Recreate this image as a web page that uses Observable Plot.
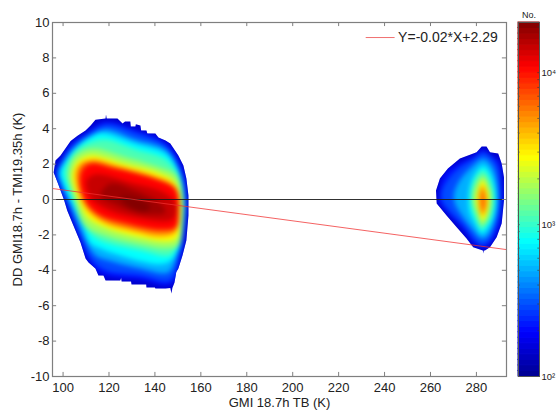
<!DOCTYPE html>
<html><head><meta charset="utf-8">
<script src="https://cdn.jsdelivr.net/npm/d3@7"></script>
<script src="https://cdn.jsdelivr.net/npm/@observablehq/plot@0.6"></script>
<style>html,body{margin:0;padding:0;background:#fff}#c{position:relative;width:557px;height:413px}#c svg{position:absolute;left:0;top:0;background:transparent}</style>
</head><body><div id="c"></div>
<script>
const xDomain=[95.4,293.1], yDomain=[-10,10];
const xTicks=[100,120,140,160,180,200,220,240,260,280];
const yTicks=[-10,-8,-6,-4,-2,0,2,4,6,8,10];
const fitX=[95.4,293.1], fitY=[0.62,-2.83];
const legendX=[232,244.6], legendY=[9.15,9.15];
const legendLabel="Y=-0.02*X+2.29";
const barTicks=[100,1000,10000], barLabels=["10²","10³","10⁴"];
const barMinor=[200,300,400,500,600,700,800,900,2000,3000,4000,5000,6000,7000,8000,9000,20000];
const stopValues=[100,196,767,2790,10900,21400];
const stopColors=["#00008f","#0000ff","#00ffff","#ffff00","#ff0000","#800000"];

// contour outlines: [count level, outline [x,y]...]
const bigEdge=[145,[[95.9,1.53],[96.7,2.2],[98.9,2.49],[101.1,2.9],[103.3,3.3],[106.3,3.6],[109.8,3.9],[112,4.18],[114.1,4.5],[118.5,4.58],[118.7,4.8],[119,4.58],[123.7,4.58],[125.9,4.29],[127,4.41],[129.3,4.41],[129.5,4.12],[131.5,4.12],[131.7,4.25],[133.7,4.18],[134,3.9],[136.3,3.9],[136.7,3.73],[140.2,3.73],[141.5,3.5],[144.6,3.33],[146.7,3.16],[150.2,2.49],[152.4,1.92],[153.7,1.19],[154.6,.23],[154.6,-.9],[153.7,-2.32],[152,-3.16],[150.2,-3.9],[149.3,-4.1],[148.5,-4.7],[147.6,-5],[147.2,-5.31],[146.7,-5],[144.6,-5.03],[140.2,-5.03],[140,-4.97],[136.3,-4.97],[136.2,-4.8],[129.8,-4.8],[129.6,-4.63],[125.5,-4.63],[125.3,-4.41],[124.9,-4.58],[118.5,-4.58],[117.6,-4.29],[115.4,-4.29],[114.1,-3.9],[111.1,-3.56],[109.8,-3.33],[107.6,-2.43],[104.5,-1.47],[101.8,-.62],[100.5,-.06],[97.8,.9]]];
const bigLevels=[
[210,[[96.5,1.53],[97.3,.85],[100.8,-.06],[103.3,-.9],[106.8,-2.1],[110.5,-3.3],[116.5,-4.2],[133.7,-4.55],[147,-4.8],[151.5,-3.3],[153.3,-1.6],[154,.23],[152,1.75],[145.5,3.15],[131.5,3.95],[118.5,4.4],[109.8,3.75],[103.8,3.2],[99.7,2.42]]],
[292,[[97.2,1.53],[98.5,.79],[101.5,-.06],[104.1,-.9],[107.6,-2.03],[112,-3.33],[118.5,-4.01],[133.7,-4.29],[146.7,-4.58],[150.7,-3.16],[152.8,-1.47],[153.3,.23],[151.1,1.64],[144.6,3.05],[131.5,3.79],[118.5,4.24],[109.8,3.62],[104.1,3.05],[100.2,2.37]]],
[499,[[98,1.53],[99.8,.79],[102.4,-.06],[106.3,-1.3],[110.2,-2.43],[114.1,-3.16],[119.8,-3.45],[133.7,-3.9],[145.9,-4.12],[150.2,-2.88],[152.4,-1.47],[152.8,.23],[150.7,1.64],[144.6,2.83],[131.5,3.39],[118.5,3.96],[111.1,3.5],[105.9,2.94],[101.1,2.2]]],
[770,[[98.9,1.53],[100.7,.62],[103.3,-.06],[108.9,-1.58],[112,-2.49],[116.3,-2.77],[120.7,-2.99],[144.6,-3.62],[150.2,-2.88],[152.4,-1.47],[152.8,-.06],[151.5,1.07],[148.9,1.92],[144.6,2.6],[131.5,3.16],[118.5,3.73],[115,3.73],[108.9,3.33],[102.4,2.49]]],
[1120,[[100.7,1.53],[103.3,.51],[106.7,-.73],[110.7,-1.75],[116.3,-2.32],[133.7,-2.88],[146.7,-3.16],[150.7,-2.32],[152,-1.3],[152,.23],[150.2,1.36],[144.6,2.26],[131.5,2.83],[118.5,3.39],[112.8,3.28],[106.7,2.88],[103.3,2.32]]],
[1720,[[102.4,1.53],[104.1,2.32],[108.9,2.77],[114.1,2.88],[126.3,2.43],[141.1,1.86],[149.4,1.36],[152,.23],[152,-1.3],[150.2,-2.6],[144.6,-2.77],[133.7,-2.54],[119.4,-2.09],[109.4,-1.47],[105,-.06],[102.4,1.07]]],
[2850,[[104,1.53],[106.3,2.15],[109.8,2.43],[114.1,2.49],[126.3,2.03],[141.1,1.53],[148,1.07],[151.1,.23],[151.1,-1.19],[149.4,-2.2],[144.6,-2.37],[133.7,-2.15],[119.4,-1.64],[110.7,-1.02],[106.3,.11],[104.1,1.07]]],
[4750,[[105.4,1.53],[107.6,2.03],[110.7,2.2],[114.1,2.26],[123.7,1.92],[138,1.41],[148,.85],[150.7,.06],[150.7,-1.02],[148.9,-1.86],[142.4,-2.09],[129.3,-1.75],[118.5,-1.36],[111.1,-.68],[107.2,.23]]],
[6540,[[106.7,1.53],[108.5,1.98],[112,2.15],[122,1.86],[135.9,1.3],[148.9,.68],[150.2,-.34],[150.2,-.73],[148.9,-1.7],[142.4,-1.86],[127.2,-1.53],[117.6,-1.13],[111.1,-.51],[107.6,.34]]],
[10900,[[107.6,1.36],[109.8,1.86],[113.3,2.03],[120.7,1.81],[130.7,1.53],[142.4,1.07],[149.4,.51],[150.2,-.62],[149.4,-1.53],[142.4,-1.7],[126.3,-1.3],[116.3,-.9],[111.1,-.34],[108,.51]]],
[14700,[[110.2,1.07],[114.1,1.41],[129.3,.96],[144.6,.34],[149.4,-.34],[147.6,-1.13],[129.3,-.96],[118.5,-.51],[112,.11]]],
[18200,[[120.7,.9],[131.5,.51],[142.4,-.23],[144.6,-.73],[133.7,-.79],[122.8,-.28],[116.3,.23]]],
[21000,[[125,.17],[131.5,.11],[138,-.4],[135.9,-.68],[128.5,-.4]]]
];
const smallEdge=[145,[[282.3,2.99],[284.4,2.99],[285.9,2.67],[289.5,2.6],[291,2.03],[292,1.26],[292,-.06],[291,-1.36],[288.8,-2.13],[285.9,-2.7],[283.7,-2.88],[283.2,-2.88],[283,-3.05],[282.8,-2.88],[278.6,-2.7],[275.7,-2.2],[271.4,-1.57],[267,-.9],[262.7,-.23],[262.4,.51],[264.1,1.19],[267.6,1.75],[272.8,2.32],[280.1,2.67]]];
const smallLevels=[
[210,[[283,2.83],[286.2,2.5],[289.7,2.2],[291.2,.9],[291.1,-.5],[289.5,-1.7],[286,-2.5],[282.8,-2.75],[278.6,-2.45],[274.3,-1.7],[268,-.85],[263.8,-.15],[263.8,.5],[266,1.45],[272.3,2.05],[278.6,2.45]]],
[292,[[283,2.67],[286.6,2.39],[289.5,1.83],[290.5,.7],[290.2,-.81],[288,-1.75],[285.2,-2.41],[282.3,-2.6],[278.6,-2.22],[274.3,-1.47],[268.5,-.72],[264.9,-.06],[264.9,.51],[267.8,1.17],[272.8,1.83],[278.6,2.3]]],
[499,[[283,2.3],[286.6,1.92],[288.8,1.07],[289.5,-.06],[288,-1.19],[285.2,-2.03],[282.3,-2.22],[278.6,-1.75],[273.6,-.9],[270.7,-.24],[270.2,.32],[273.2,1.17],[277.9,1.83]]],
[770,[[283,1.92],[285.9,1.54],[288,.7],[288.5,-.24],[287.3,-1.09],[284.4,-1.75],[282.3,-1.94],[279.4,-1.37],[277,-.72],[276.5,-.06],[277.2,.79],[279.4,1.45]]],
[1120,[[283,1.64],[285.6,1.22],[287.3,.51],[287.5,-.34],[286,-1.09],[283.4,-1.6],[282.3,-1.72],[279.8,-1.15],[278,-.43],[277.6,.13],[278.2,.79],[280.1,1.36]]],
[1720,[[283,1.36],[285.2,.88],[286.6,.23],[286.2,-.53],[284.7,-1.19],[282.3,-1.47],[280.4,-.9],[278.6,-.24],[278.6,.41],[280.4,.98]]],
[2850,[[282.7,1.07],[284.7,.6],[285.6,-.06],[284.7,-.72],[282.7,-1.19],[281.1,-.72],[280.1,-.06],[280.8,.6]]],
[4750,[[282.7,.79],[284.1,.41],[284.7,-.15],[284,-.62],[282.5,-.9],[281.5,-.53],[281.1,.04],[281.5,.51]]],
[6000,[[282.7,.51],[283.7,.13],[283.7,-.34],[282.5,-.62],[281.8,-.24],[281.8,.23]]]
];
const flat=(list,tag)=>list.flatMap(([v,pts],i)=>pts.map(([x,y])=>({id:tag+i,v,x,y})));
const edges=flat([bigEdge,smallEdge],"edge");
const inner=[...flat(bigLevels,"big"),...flat(smallLevels,"small")];
const colorScale={type:"log",domain:stopValues,range:stopColors,interpolate:"rgb"};
const gray="#7f7f7f";
const font="Arial, 'Liberation Sans', sans-serif";

const main=Plot.plot({
  width:557,height:413,marginLeft:52,marginRight:51,marginTop:22,marginBottom:37,
  style:{fontFamily:font,fontSize:"13px",color:"#222",background:"transparent"},
  x:{domain:xDomain,label:null},y:{domain:yDomain,label:null},color:colorScale,
  marks:[
    Plot.line(edges,{x:"x",y:"y",z:"id",fill:"v",stroke:null,curve:"linear"}),
    Plot.line(inner,{x:"x",y:"y",z:"id",fill:"v",stroke:null,curve:"catmull-rom-closed",imageFilter:"blur(2.4px)"}),
    Plot.ruleY([0],{stroke:"#1a1a1a",strokeWidth:0.9}),
    Plot.line(fitX.map((x,i)=>({x,y:fitY[i]})),{x:"x",y:"y",stroke:"#f03030",strokeWidth:0.9,strokeOpacity:0.85}),
    Plot.ruleY([legendY[0]],{x1:legendX[0],x2:legendX[1],stroke:"#f07070",strokeWidth:1}),
    Plot.text([legendLabel],{x:legendX[1],y:legendY[0],dx:3,text:d=>d,textAnchor:"start",fontSize:14,fill:"#222"}),
    Plot.ruleX(xTicks,{y1:yDomain[0],y2:yDomain[0]+0.23,stroke:gray}),
    Plot.ruleX(xTicks,{y1:yDomain[1],y2:yDomain[1]-0.23,stroke:gray}),
    Plot.ruleY(yTicks,{x1:xDomain[0],x2:xDomain[0]+1.8,stroke:gray}),
    Plot.ruleY(yTicks,{x1:xDomain[1],x2:xDomain[1]-1.8,stroke:gray}),
    Plot.frame({stroke:gray,strokeWidth:1.2}),
    Plot.axisX({ticks:xTicks,tickSize:0,tickPadding:6,tickFormat:d=>String(d),label:"GMI 18.7h TB (K)",labelAnchor:"center",labelArrow:"none",labelOffset:30}),
    Plot.axisY({ticks:yTicks,tickSize:0,tickPadding:3,tickFormat:d=>String(d),label:"DD GMI18.7h - TMI19.35h (K)",labelAnchor:"center",labelArrow:"none",labelOffset:40})
  ]
});
document.getElementById("c").appendChild(main);

// keep the blurred interior inside the crisp, stepped outer edge of each blob
const lineGroups=main.querySelectorAll('g[aria-label="line"]');
const edgeG=lineGroups[0], innerG=lineGroups[1];
if(edgeG&&innerG){
  const NS="http://www.w3.org/2000/svg";
  const clip=document.createElementNS(NS,"clipPath"); clip.setAttribute("id","blobClip");
  edgeG.querySelectorAll("path").forEach(p=>{const q=document.createElementNS(NS,"path");q.setAttribute("d",p.getAttribute("d"));clip.appendChild(q);});
  const wrap=document.createElementNS(NS,"g"); wrap.setAttribute("clip-path","url(#blobClip)");
  const t=edgeG.getAttribute("transform"); if(t) clip.setAttribute("transform",t);
  main.insertBefore(clip,edgeG);
  innerG.parentNode.insertBefore(wrap,innerG); wrap.appendChild(innerG);
}

// colour bar: 64 stepped bands on a log axis
const n=64, lo=Math.log10(100), hi=Math.log10(21400);
const bands=d3.range(n).map(i=>({y1:10**(lo+(hi-lo)*i/n),y2:10**(lo+(hi-lo)*(i+1)/n),v:10**(lo+(hi-lo)*(i+.5)/n)}));
const bar=Plot.plot({
  width:557,height:413,marginLeft:518,marginRight:18,marginTop:22,marginBottom:37,
  style:{fontFamily:font,fontSize:"9.5px",color:"#222",background:"transparent"},
  x:{domain:[0,1],axis:null},
  y:{type:"log",domain:[100,21400],label:null},color:colorScale,
  marks:[
    Plot.rect(bands,{x1:0,x2:1,y1:"y1",y2:"y2",fill:"v",stroke:"v",strokeWidth:1}),
    Plot.ruleY([...barTicks,...barMinor],{x1:0,x2:0.08,stroke:"#333",strokeWidth:0.6}),
    Plot.ruleY([...barTicks,...barMinor],{x1:0.92,x2:1,stroke:"#333",strokeWidth:0.6}),
    Plot.frame({stroke:"#555",strokeWidth:1}),
    Plot.axisY({anchor:"right",ticks:barTicks,tickSize:0,tickPadding:2,tickFormat:d=>barLabels[barTicks.indexOf(d)],label:null}),
    Plot.text(["No."],{frameAnchor:"top",dy:-11,text:d=>d,fontSize:9,fill:"#222"})
  ]
});
document.getElementById("c").appendChild(bar);
</script></body></html>
